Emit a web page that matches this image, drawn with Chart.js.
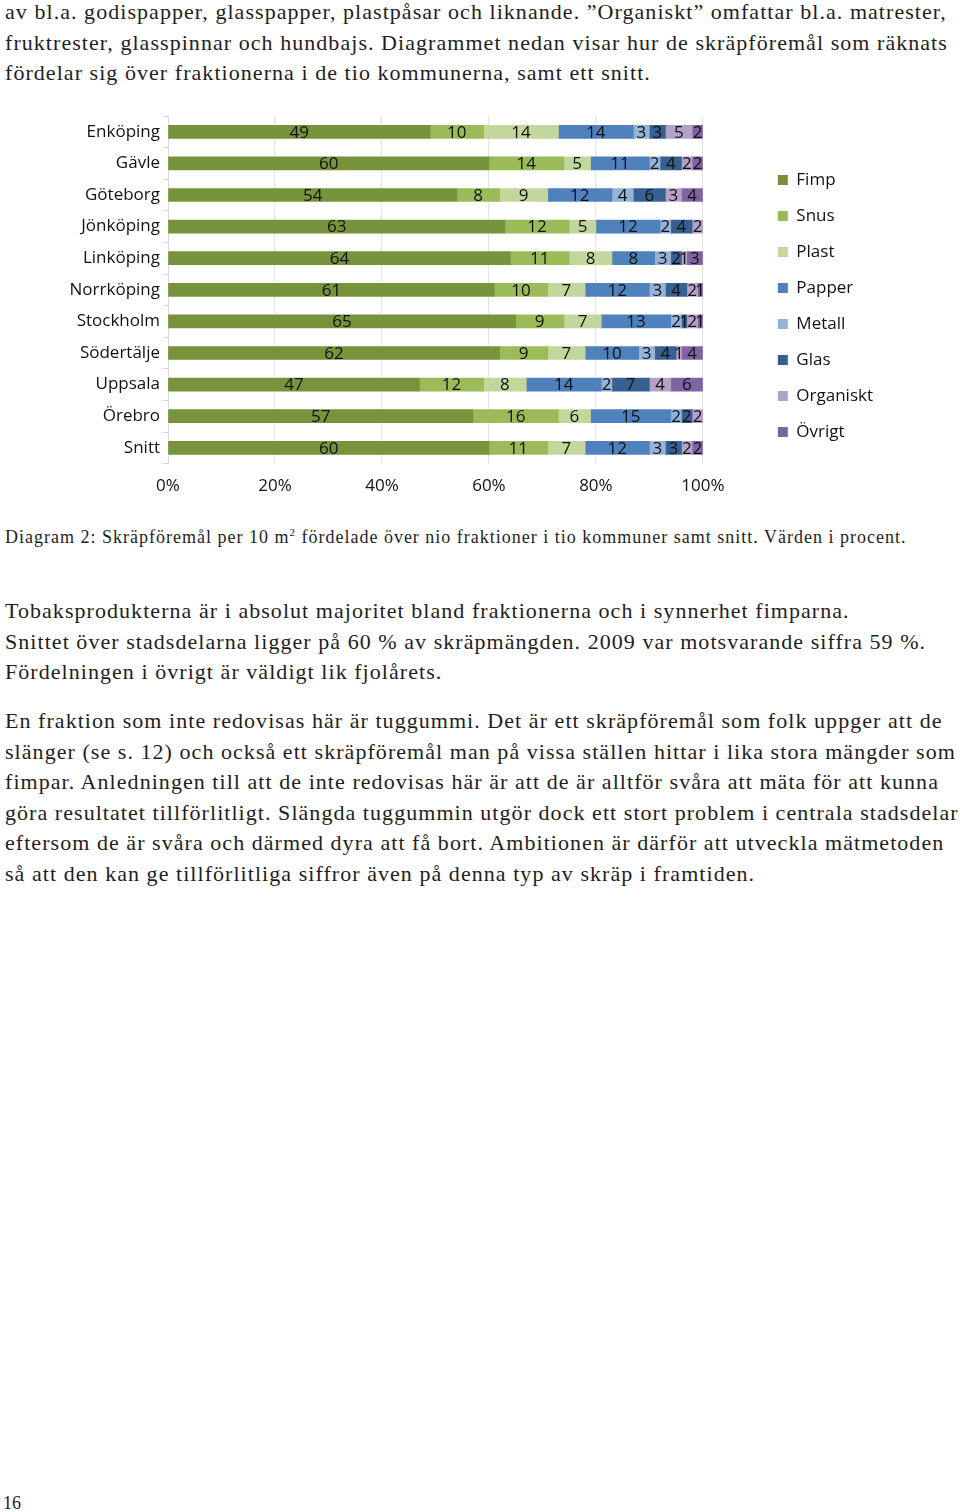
<!DOCTYPE html>
<html><head><meta charset="utf-8">
<script src="https://cdn.jsdelivr.net/npm/chart.js@4"></script>
<style>
body{margin:0;width:960px;height:1512px;background:#fff;position:relative;overflow:hidden;font-family:"Liberation Serif",serif;color:#1e1e1e}
.t{position:absolute;left:5px;font-size:22px;line-height:30.5px;white-space:nowrap;letter-spacing:1.05px}
.cap{position:absolute;left:5px;font-size:18px;line-height:22px;white-space:nowrap;letter-spacing:1px}
.cap sup{font-size:11px;vertical-align:7px;line-height:0}
#wrap{position:absolute;left:0;top:100px;width:960px;height:417px}
</style></head>
<body>
<div class="t" style="top:-3px">av bl.a. godispapper, glasspapper, plastpåsar och liknande. ”Organiskt” omfattar bl.a. matrester,<br>fruktrester, glasspinnar och hundbajs. Diagrammet nedan visar hur de skräpföremål som räknats<br>fördelar sig över fraktionerna i de tio kommunerna, samt ett snitt.</div>
<div id="wrap"><canvas id="c"></canvas></div>
<div class="cap" style="top:526px">Diagram 2: Skräpföremål per 10 m<sup>2</sup> fördelade över nio fraktioner i tio kommuner samt snitt. Värden i procent.</div>
<div class="t" style="top:596px">Tobaksprodukterna är i absolut majoritet bland fraktionerna och i synnerhet fimparna.<br>Snittet över stadsdelarna ligger på 60 % av skräpmängden. 2009 var motsvarande siffra 59 %.<br>Fördelningen i övrigt är väldigt lik fjolårets.</div>
<div class="t" style="top:706px">En fraktion som inte redovisas här är tuggummi. Det är ett skräpföremål som folk uppger att de<br>slänger (se s. 12) och också ett skräpföremål man på vissa ställen hittar i lika stora mängder som<br>fimpar. Anledningen till att de inte redovisas här är att de är alltför svåra att mäta för att kunna<br>göra resultatet tillförlitligt. Slängda tuggummin utgör dock ett stort problem i centrala stadsdelar<br>eftersom de är svåra och därmed dyra att få bort. Ambitionen är därför att utveckla mätmetoden<br>så att den kan ge tillförlitliga siffror även på denna typ av skräp i framtiden.</div>
<div class="cap" style="top:1492px;left:3px;letter-spacing:0">16</div>
<script>
const categories = ['Enköping','Gävle','Göteborg','Jönköping','Linköping','Norrköping','Stockholm','Södertälje','Uppsala','Örebro','Snitt'];
const seriesNames = ['Fimp','Snus','Plast','Papper','Metall','Glas','Organiskt','Övrigt'];
const fimp      = [49,60,54,63,64,61,65,62,47,57,60];
const snus      = [10,14, 8,12,11,10, 9, 9,12,16,11];
const plast     = [14, 5, 9, 5, 8, 7, 7, 7, 8, 6, 7];
const papper    = [14,11,12,12, 8,12,13,10,14,15,12];
const metall    = [ 3, 2, 4, 2, 3, 3, 2, 3, 2, 2, 3];
const glas      = [ 3, 4, 6, 4, 2, 4, 1, 4, 7, 2, 3];
const organiskt = [ 5, 2, 3, 2, 1, 2, 2, 1, 4, 2, 2];
const ovrigt    = [ 2, 2, 4, 0, 3, 1, 1, 4, 6, 0, 2];
const xTicks = [0,20,40,60,80,100];

const seriesData = [fimp,snus,plast,papper,metall,glas,organiskt,ovrigt];
const colors = ['#77933C','#9BBB59','#C3D69B','#4F81BD','#95B3D7','#376092','#B3A2C7','#8064A2'];
const FONT = '"Open Sans", sans-serif';

const segLabels = {
  id:'segLabels',
  afterDatasetsDraw(chart){
    const ctx = chart.ctx;
    ctx.save();
    ctx.font = '17px ' + FONT;
    ctx.fillStyle = '#111';
    ctx.textAlign = 'center';
    ctx.textBaseline = 'middle';
    chart.data.datasets.forEach((ds,i)=>{
      const meta = chart.getDatasetMeta(i);
      meta.data.forEach((el,j)=>{
        const v = ds.data[j];
        if(!v) return;
        const p = el.getProps(['x','y','base'], true);
        ctx.fillText(String(v), (p.x+p.base)/2, p.y+1);
      });
    });
    ctx.restore();
  }
};

// nudge the legend block up so it sits where the reference has it
const legendShift = {
  id:'legendShift',
  afterLayout(chart){
    if(chart.legend){ chart.legend.top -= 6; chart.legend.bottom -= 6; }
  }
};

new Chart(document.getElementById('c'), {
  type:'bar',
  data:{
    labels: categories,
    datasets: seriesNames.map((n,i)=>({
      label:n, data:seriesData[i], backgroundColor:colors[i], borderWidth:0,
      barThickness:13
    }))
  },
  options:{
    indexAxis:'y',
    responsive:true, maintainAspectRatio:false, animation:false,
    layout:{padding:{top:16,bottom:9,left:0,right:77}},
    plugins:{
      legend:{
        position:'right', align:'center',
        labels:{boxWidth:10, boxHeight:10, padding:19, color:'#111', font:{family:FONT,size:17}}
      },
      tooltip:{enabled:false}
    },
    scales:{
      x:{
        stacked:true, min:0, max:100,
        afterBuildTicks(s){ s.ticks = xTicks.map(v=>({value:v})); },
        ticks:{callback:v=>v+'%', color:'#111', font:{family:FONT,size:17}, padding:12, maxRotation:0},
        grid:{color:'#e3e3e3', drawTicks:false},
        border:{display:false}
      },
      y:{
        stacked:true,
        afterFit(s){ s.width = 168; },
        ticks:{color:'#111', font:{family:FONT,size:17}, padding:3},
        grid:{drawOnChartArea:false, drawTicks:true, tickLength:5, color:'#d9d9d9', offset:true},
        border:{color:'#d9d9d9'}
      },
      y2:{
        axis:'y', type:'category', position:'right', labels:categories,
        afterFit(s){ s.width = 56; },
        ticks:{display:false}, grid:{display:false, drawTicks:false}, border:{display:false}
      }
    }
  },
  plugins:[segLabels, legendShift]
});
</script>
</body></html>
